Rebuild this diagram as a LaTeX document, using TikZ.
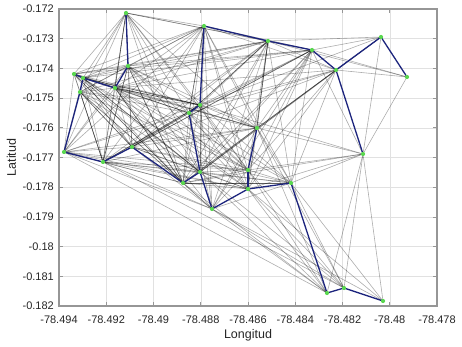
\documentclass[tikz,border=0pt]{standalone}
\usepackage{fontspec}
\setmainfont{Liberation Sans}
\definecolor{treeblue}{RGB}{28,36,125}
\definecolor{dotgreen}{RGB}{90,215,80}
\definecolor{axisgray}{RGB}{150,150,150}
\definecolor{gridgray}{RGB}{225,225,225}
\definecolor{txt}{RGB}{38,38,38}
\tikzset{
  gridline/.style={draw=gridgray, line width=0.5pt},
  axisline/.style={draw=axisgray, line width=1.1pt},
  tickline/.style={draw=axisgray, line width=0.7pt},
  grayedge/.style={draw=black, opacity=0.32, line width=0.6pt},
  darkedge/.style={draw=black, opacity=0.45, line width=0.6pt},
  treeedge/.style={draw=treeblue, line width=1.3pt, line cap=round},
  ticklabel/.style={text=txt, font=\fontsize{11}{13}\selectfont, inner sep=0pt},
  axislabel/.style={text=txt, font=\fontsize{12.5}{14}\selectfont, inner sep=0pt},
}
\begin{document}
\begin{tikzpicture}[x=1pt,y=-1pt]
\useasboundingbox (0,0) rectangle (462,347);
% grid
\foreach \k in {1,...,7} { \draw[gridline] ({59+47.25*\k},9) -- ({59+47.25*\k},306); }
\foreach \k in {1,...,9} { \draw[gridline] (59,{9+29.7*\k}) -- (437,{9+29.7*\k}); }
% nodes
\coordinate (n1) at (126,13);
\coordinate (n2) at (204,26);
\coordinate (n3) at (268,41);
\coordinate (n4) at (312,50);
\coordinate (n5) at (336,70);
\coordinate (n6) at (381,37);
\coordinate (n7) at (407,77);
\coordinate (n8) at (74,74);
\coordinate (n9) at (83,78);
\coordinate (n10) at (80,92);
\coordinate (n11) at (115,88);
\coordinate (n12) at (128,66);
\coordinate (n13) at (200,105);
\coordinate (n14) at (189,113);
\coordinate (n15) at (64,152);
\coordinate (n16) at (103,162);
\coordinate (n17) at (132,147);
\coordinate (n18) at (257,128);
\coordinate (n19) at (363,154);
\coordinate (n20) at (248,170);
\coordinate (n21) at (291,183);
\coordinate (n22) at (248,189);
\coordinate (n23) at (183,183);
\coordinate (n24) at (200,172);
\coordinate (n25) at (212,209);
\coordinate (n26) at (327,293);
\coordinate (n27) at (344,288);
\coordinate (n28) at (383,301);
% gray links: dense left cluster
\foreach \a in {1,2,8,9,10,11,12,13,14,15,16,17,23,24} {
  \foreach \b in {1,2,8,9,10,11,12,13,14,15,16,17,23,24} {
    \ifnum\a<\b \draw[grayedge] (n\a) -- (n\b); \fi
  }
}
% gray links: the rest
\foreach \a/\b in {1/3,1/4,1/18,1/20,
  2/4,2/5,2/18,2/20,2/21,2/22,2/25,
  3/8,3/9,3/10,3/11,3/12,3/13,3/14,3/16,3/17,3/23,3/24,3/18,3/20,3/22,3/21,3/5,3/6,3/7,3/25,
  4/8,4/9,4/11,4/12,4/13,4/14,4/17,4/18,4/20,4/22,4/23,4/24,4/21,4/25,4/6,4/7,4/19,
  5/11,5/13,5/14,5/17,5/18,5/20,5/21,5/22,5/23,5/24,5/7,
  6/19,6/24,6/18,6/13,7/19,
  8/18,8/20,9/18,9/22,10/20,10/25,
  11/18,11/20,11/21,11/22,11/25,12/18,12/20,12/22,
  13/18,13/19,13/20,13/21,13/22,13/25,
  14/18,14/20,14/21,14/22,14/25,
  15/18,15/20,15/22,15/25,15/26,
  16/18,16/20,16/21,16/22,16/25,16/27,
  17/18,17/20,17/21,17/22,17/25,
  18/19,18/21,18/22,18/23,18/24,18/25,18/26,18/27,
  19/20,19/21,19/22,19/23,19/26,19/27,19/28,
  20/21,20/23,20/24,20/25,20/26,20/27,
  21/23,21/24,21/25,21/27,21/28,
  22/23,22/24,22/26,22/27,22/28,
  23/25,23/26,24/26,24/27,25/26,25/27,25/28} {
  \draw[grayedge] (n\a) -- (n\b);
}
% darker links
\foreach \a/\b in {11/13,21/23,3/18,10/16,12/16,1/11,11/23,9/24,8/23,12/23,10/17,2/14,9/13,16/13,3/14,4/17} {
  \draw[darkedge] (n\a) -- (n\b);
}
% blue tree
\foreach \a/\b in {1/12,12/11,8/9,9/11,9/10,10/15,15/16,16/17,17/23,23/24,24/14,14/13,13/2,
  24/25,25/22,22/20,20/18,22/21,21/26,26/27,27/28,2/3,3/4,4/5,5/6,6/7,5/19} {
  \draw[treeedge] (n\a) -- (n\b);
}
% node markers
\foreach \i in {1,...,28} { \fill[dotgreen] (n\i) circle (2.1pt); }
% axes box and ticks
\draw[axisline] (59,9) rectangle (437,306);
\foreach \k in {0,...,8} {
  \draw[tickline] ({59+47.25*\k},306) -- ({59+47.25*\k},302);
  \draw[tickline] ({59+47.25*\k},9) -- ({59+47.25*\k},13);
}
\foreach \k in {0,...,10} {
  \draw[tickline] (59,{9+29.7*\k}) -- (63,{9+29.7*\k});
  \draw[tickline] (437,{9+29.7*\k}) -- (433,{9+29.7*\k});
}
% tick labels
\foreach \k/\t in {0/-78.494,1/-78.492,2/-78.49,3/-78.488,4/-78.486,5/-78.484,6/-78.482,7/-78.48,8/-78.478} {
  \node[ticklabel, anchor=center] (xl\k) at ({59+47.25*\k},319.5) {\t};
}
\foreach \k/\t in {0/-0.172,1/-0.173,2/-0.174,3/-0.175,4/-0.176,5/-0.177,6/-0.178,7/-0.179,8/-0.18,9/-0.181,10/-0.182} {
  \node[ticklabel, anchor=east] (yl\k) at (54,{9+29.7*\k}) {\t};
}
\node[axislabel, anchor=base] (xlab) at (248,338.5) {Longitud};
\node[axislabel, rotate=90, anchor=center] (ylab) at (11.5,157.5) {Latitud};
\end{tikzpicture}
\end{document}
